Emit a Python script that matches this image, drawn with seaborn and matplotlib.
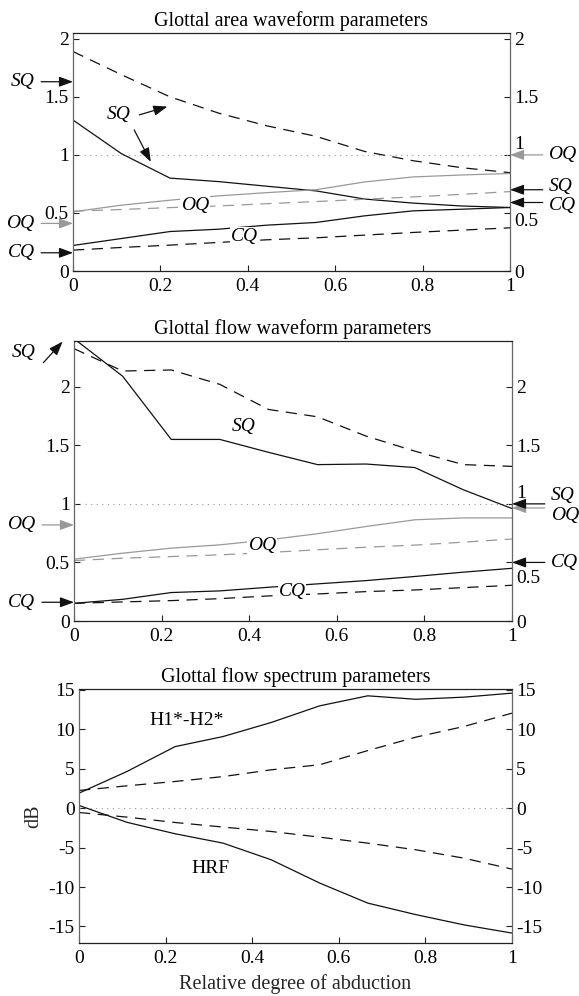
import numpy as np
import pandas as pd
import seaborn as sns
import matplotlib.pyplot as plt
import matplotlib.transforms as mtransforms

# relative degree of abduction (x for every curve)
abduction = [0.0, 0.111, 0.222, 0.333, 0.444, 0.556, 0.667, 0.778, 0.889, 1.0]

# Glottal area waveform parameters (solid / dashed)
area_sq = [1.30, 1.01, 0.80, 0.77, 0.73, 0.69, 0.62, 0.585, 0.56, 0.547]
area_sq_d = [1.89, 1.69, 1.50, 1.36, 1.25, 1.16, 1.03, 0.95, 0.89, 0.847]
area_oq = [0.51, 0.567, 0.61, 0.647, 0.675, 0.70, 0.767, 0.81, 0.827, 0.84]
area_oq_d = [0.515, 0.53, 0.546, 0.56, 0.58, 0.598, 0.618, 0.638, 0.66, 0.684]
area_cq = [0.22, 0.28, 0.34, 0.36, 0.395, 0.418, 0.475, 0.518, 0.532, 0.547]
area_cq_d = [0.18, 0.203, 0.223, 0.246, 0.269, 0.286, 0.309, 0.332, 0.352, 0.372]

# Glottal flow waveform parameters
flow_sq = [2.41, 2.09, 1.55, 1.55, 1.44, 1.335, 1.34, 1.31, 1.12, 0.96]
flow_sq_d = [2.325, 2.134, 2.143, 2.02, 1.806, 1.743, 1.578, 1.45, 1.335, 1.32]
flow_oq = [0.528, 0.579, 0.622, 0.65, 0.693, 0.745, 0.807, 0.864, 0.88, 0.88]
flow_oq_d = [0.516, 0.536, 0.55, 0.565, 0.585, 0.608, 0.63, 0.648, 0.673, 0.70]
flow_cq = [0.151, 0.185, 0.243, 0.257, 0.288, 0.317, 0.345, 0.38, 0.417, 0.45]
flow_cq_d = [0.151, 0.163, 0.174, 0.191, 0.214, 0.231, 0.251, 0.265, 0.285, 0.305]

# Glottal flow spectrum parameters (dB)
h1h2 = [1.9, 4.65, 7.8, 9.08, 10.86, 12.97, 14.24, 13.8, 14.07, 14.58]
h1h2_d = [2.24, 2.83, 3.38, 4.0, 4.86, 5.5, 7.3, 9.0, 10.35, 12.04]
hrf = [0.34, -1.8, -3.25, -4.44, -6.55, -9.5, -12.04, -13.5, -14.8, -15.84]
hrf_d = [-0.55, -1.14, -1.82, -2.4, -2.96, -3.68, -4.44, -5.28, -6.34, -7.73]

xticks = [0, 0.2, 0.4, 0.6, 0.8, 1]
xticklabels = ['0', '0.2', '0.4', '0.6', '0.8', '1']
q_ticks = [0, 0.5, 1, 1.5, 2]
q_ticklabels = ['0', '0.5', '1', '1.5', '2']
db_ticks = [-15, -10, -5, 0, 5, 10, 15]
db_ticklabels = ['-15', '-10', '-5', '0', '5', '10', '15']

# reference values marked with arrows at the axis sides
area_left = {'SQ': 1.63, 'OQ': 0.41, 'CQ': 0.157}
area_right = {'OQ': 1.0, 'SQ': 0.70, 'CQ': 0.59}
flow_left = {'OQ': 0.82, 'CQ': 0.16}
flow_right = {'SQ': 1.0, 'OQ': 0.965, 'CQ': 0.5}

BLACK = '#111111'
GRAY = '#999999'
FS = 14

sns.set_style('ticks')
plt.rcParams['font.family'] = ['Liberation Serif', 'DejaVu Serif']
plt.rcParams['text.color'] = 'black'
plt.rcParams['xtick.color'] = '#222222'
plt.rcParams['ytick.color'] = '#222222'
plt.rcParams['xtick.labelcolor'] = 'black'
plt.rcParams['ytick.labelcolor'] = 'black'

fig = plt.figure(figsize=(5.79, 9.96), dpi=100)


def curve(ax, y, color, dashed=False):
    ls = (0, (9, 6)) if dashed else '-'
    sns.lineplot(x=abduction, y=y, ax=ax, color=color, lw=0.9, linestyle=ls)


def setup(ax, ylim, yticks, yticklabels, title):
    ax.set_xlim(0, 1)
    ax.set_ylim(*ylim)
    ax.set_xticks(xticks)
    ax.set_xticklabels(xticklabels)
    ax.set_yticks(yticks)
    ax.set_yticklabels(yticklabels)
    ax.tick_params(axis='both', direction='in', length=4, width=0.8, labelsize=FS, pad=3)
    ax.tick_params(axis='x', pad=5)
    ax.tick_params(axis='y', right=True, labelright=True)
    ax.tick_params(axis='x', top=False)
    for side in ['left', 'right']:
        ax.spines[side].set_color('#666666')
        ax.spines[side].set_linewidth(0.9)
    for side in ['top', 'bottom']:
        ax.spines[side].set_color('#222222')
        ax.spines[side].set_linewidth(0.9)
    ax.set_title(title, fontsize=FS + 0.5, pad=5)
    ax.set_xlabel('')
    ax.set_ylabel('')


def nudge_right_label(ax, value, dy):
    # move a right-hand tick label up/down (points) so the arrows fit
    for tick in ax.yaxis.get_major_ticks():
        if abs(tick.get_loc() - value) < 1e-9:
            off = mtransforms.ScaledTranslation(0, dy / 72, fig.dpi_scale_trans)
            tick.label2.set_transform(tick.label2.get_transform() + off)


def side_arrow(ax, y, color, side, label=None, text_y=None):
    if side == 'left':
        x0, x1, tx, ha = -0.073, 0.0, -0.088, 'right'
    else:
        x0, x1, tx, ha = 1.075, 1.0, 1.088, 'left'
    ax.annotate('', xy=(x1, y), xytext=(x0, y), annotation_clip=False,
                arrowprops=dict(arrowstyle='-|>,head_length=0.6,head_width=0.22',
                                color=color, lw=0.9, shrinkA=0, shrinkB=0,
                                mutation_scale=14))
    if label:
        ax.text(tx, y if text_y is None else text_y, label, ha=ha, va='center',
                fontsize=FS, fontstyle='italic', clip_on=False)


def inline_label(ax, x, y, text, boxed=True, italic=True):
    kw = dict(ha='center', va='center', fontsize=FS,
              fontstyle='italic' if italic else 'normal')
    if boxed:
        kw['bbox'] = dict(facecolor='white', edgecolor='none', pad=0.6)
    ax.text(x, y, text, **kw)


# ---------------- top: glottal area ----------------
ax1 = fig.add_axes([0.1261, 0.7279, 0.7547, 0.2390])
ax1.axhline(1, color=GRAY, lw=0.8, linestyle=(0, (1, 4)))
curve(ax1, area_sq, BLACK)
curve(ax1, area_sq_d, BLACK, dashed=True)
curve(ax1, area_oq, GRAY)
curve(ax1, area_oq_d, GRAY, dashed=True)
curve(ax1, area_cq, BLACK)
curve(ax1, area_cq_d, BLACK, dashed=True)
setup(ax1, (0, 2.05), q_ticks, q_ticklabels, 'Glottal area waveform parameters')
nudge_right_label(ax1, 1, 9)
nudge_right_label(ax1, 0.5, -5)

inline_label(ax1, 0.105, 1.345, 'SQ', boxed=False)
ax1.annotate('', xy=(0.216, 1.416), xytext=(0.152, 1.345),
             arrowprops=dict(arrowstyle='-|>,head_length=0.6,head_width=0.22',
                             color=BLACK, lw=0.9, shrinkA=0, shrinkB=0, mutation_scale=14))
ax1.annotate('', xy=(0.178, 0.94), xytext=(0.14, 1.215),
             arrowprops=dict(arrowstyle='-|>,head_length=0.6,head_width=0.22',
                             color=BLACK, lw=0.9, shrinkA=0, shrinkB=0, mutation_scale=14))
inline_label(ax1, 0.28, 0.567, 'OQ')
inline_label(ax1, 0.392, 0.298, 'CQ')

side_arrow(ax1, area_left['SQ'], BLACK, 'left', 'SQ')
side_arrow(ax1, area_left['OQ'], GRAY, 'left', 'OQ')
side_arrow(ax1, area_left['CQ'], BLACK, 'left', 'CQ')
side_arrow(ax1, area_right['OQ'], GRAY, 'right', 'OQ')
side_arrow(ax1, area_right['SQ'], BLACK, 'right', 'SQ', text_y=0.725)
side_arrow(ax1, area_right['CQ'], BLACK, 'right', 'CQ', text_y=0.565)

# ---------------- middle: glottal flow ----------------
ax2 = fig.add_axes([0.1278, 0.3765, 0.7565, 0.2811])
ax2.axhline(1, color=GRAY, lw=0.8, linestyle=(0, (1, 4)))
curve(ax2, flow_sq, BLACK)
curve(ax2, flow_sq_d, BLACK, dashed=True)
curve(ax2, flow_oq, GRAY)
curve(ax2, flow_oq_d, GRAY, dashed=True)
curve(ax2, flow_cq, BLACK)
curve(ax2, flow_cq_d, BLACK, dashed=True)
setup(ax2, (0, 2.39), q_ticks, q_ticklabels, 'Glottal flow waveform parameters')
nudge_right_label(ax2, 1, 9)
nudge_right_label(ax2, 0.5, -10)

inline_label(ax2, 0.388, 1.66, 'SQ', boxed=False)
inline_label(ax2, 0.43, 0.642, 'OQ')
inline_label(ax2, 0.498, 0.251, 'CQ')

ax2.text(-0.088, 2.29, 'SQ', ha='right', va='center', fontsize=FS,
         fontstyle='italic', clip_on=False)
ax2.annotate('', xy=(-0.026, 2.385), xytext=(-0.070, 2.205), annotation_clip=False,
             arrowprops=dict(arrowstyle='-|>,head_length=0.6,head_width=0.22',
                             color=BLACK, lw=0.9, shrinkA=0, shrinkB=0, mutation_scale=14))
side_arrow(ax2, flow_left['OQ'], GRAY, 'left', 'OQ')
side_arrow(ax2, flow_left['CQ'], BLACK, 'left', 'CQ')
side_arrow(ax2, flow_right['OQ'], GRAY, 'right', 'OQ', text_y=0.9)
side_arrow(ax2, flow_right['SQ'], BLACK, 'right', 'SQ', text_y=1.07)
side_arrow(ax2, flow_right['CQ'], BLACK, 'right', 'CQ')

# ---------------- bottom: spectrum ----------------
ax3 = fig.add_axes([0.1364, 0.0532, 0.7478, 0.2550])
ax3.axhline(0, color=GRAY, lw=0.8, linestyle=(0, (1, 4)))
curve(ax3, h1h2, BLACK)
curve(ax3, h1h2_d, BLACK, dashed=True)
curve(ax3, hrf, BLACK)
curve(ax3, hrf_d, BLACK, dashed=True)
setup(ax3, (-17.1, 15.1), db_ticks, db_ticklabels, 'Glottal flow spectrum parameters')
ax3.set_xlabel('Relative degree of abduction', fontsize=FS + 0.5, labelpad=5)
ax3.set_ylabel('dB', fontsize=FS + 0.5, labelpad=4)
inline_label(ax3, 0.249, 11.1, 'H1*-H2*', boxed=False, italic=False)
inline_label(ax3, 0.304, -7.6, 'HRF', boxed=False, italic=False)

fig.savefig('out.png', dpi=100)
